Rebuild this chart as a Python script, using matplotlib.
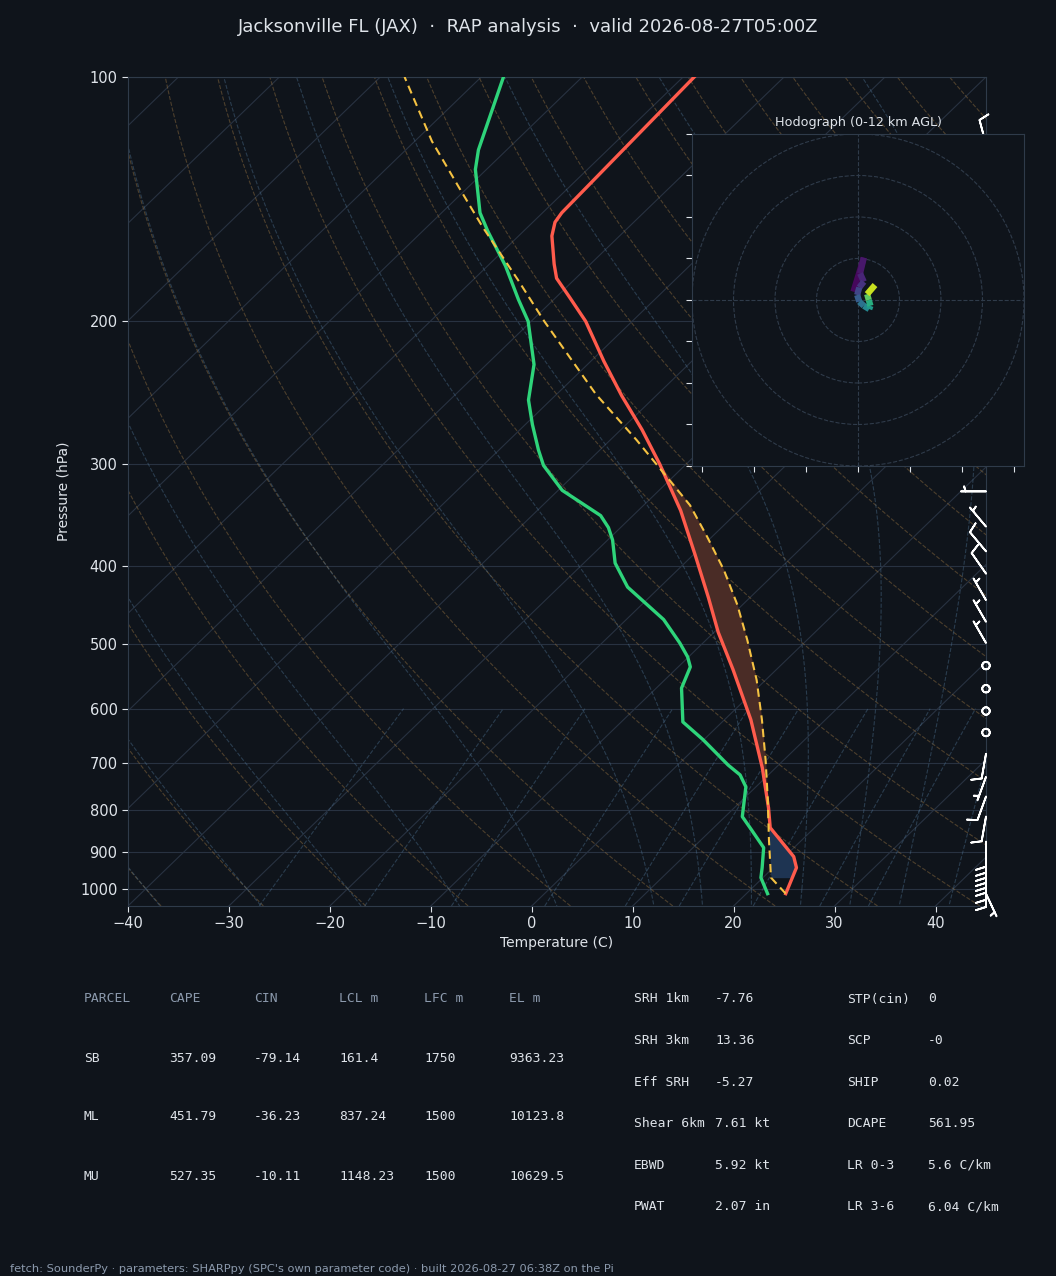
import numpy as np
import matplotlib
matplotlib.use('Agg')
import matplotlib.pyplot as plt
from matplotlib.collections import LineCollection
from matplotlib.patches import Circle
from matplotlib.transforms import blended_transform_factory

BG = '#0f141b'
GRID = '#283241'
SPINE = '#2f3b4a'
TXT = '#dfe4ea'
MUTED = '#8c9aad'

TITLE = 'Jacksonville FL (JAX)  \u00b7  RAP analysis  \u00b7  valid 2026-08-27T05:00Z'
FOOTER = ("fetch: SounderPy \u00b7 parameters: SHARPpy (SPC's own parameter code) "
          "\u00b7 built 2026-08-27 06:38Z on the Pi")

# environmental temperature (hPa, degC)
TEMP_P = [100, 147, 151, 157, 170, 177, 187, 200, 224, 247, 272, 300, 342, 388,
          438, 483, 537, 619, 710, 795, 841, 913, 942, 1014]
TEMP_C = [-68.9, -68.1, -67.8, -66.7, -63.6, -61.9, -58.6, -54.6, -48.7, -43.4,
          -37.9, -32.6, -25.8, -19.8, -14.1, -9.6, -4.3, 2.6, 8.7, 13.4, 15.6,
          20.9, 22.3, 23.9]

# dewpoint
DEWP_P = [100, 123, 130, 147, 155, 171, 188, 200, 226, 250, 268, 288, 301, 323,
          347, 359, 372, 397, 425, 466, 498, 518, 533, 566, 623, 655, 704, 724,
          749, 815, 841, 890, 942, 969, 1014]
DEWP_C = [-87.8, -82.8, -81.1, -76.2, -73.5, -68.2, -63.5, -60.3, -55.3, -52.2,
          -49.3, -46.1, -44.0, -39.6, -33.2, -31.2, -29.5, -26.9, -23.2, -16.3,
          -12.3, -10.1, -8.8, -7.5, -3.9, -0.1, 5.0, 7.2, 9.0, 11.7, 13.6, 17.0,
          18.9, 19.8, 22.1]

# surface based parcel
PARCEL_P = [1014, 969, 870, 777, 694, 619, 553, 494, 447, 405, 369, 337, 280,
            246, 200, 178, 153, 137, 120, 100]
PARCEL_C = [23.9, 20.8, 16.7, 12.5, 8.2, 3.7, -0.9, -5.9, -10.5, -15.4, -20.4,
            -25.4, -37.4, -46.1, -58.7, -65.5, -74.5, -80.8, -88.3, -97.6]
LFC_P, EL_P = 800, 285

# wind barbs (hPa, kt, direction from)
BARB_P = [121, 324, 358, 384, 409, 441, 469, 498, 531, 567, 604, 642, 682, 728,
          770, 815, 875, 890, 903, 916, 929, 942, 961, 981, 1014]
BARB_SPD = [10, 5, 5, 10, 10, 5, 5, 5, 0, 0, 0, 0, 10, 5, 10, 10, 10, 10, 10,
            10, 10, 10, 10, 10, 5]
BARB_DIR = [345, 270, 320, 320, 325, 330, 330, 330, 0, 0, 0, 0, 190, 200, 200,
            190, 180, 180, 180, 180, 180, 180, 180, 180, 155]

# hodograph (kt) coloured by height AGL (km)
HODO_U = [-1.1, 1.4, 0.5, 1.4, 0.3, -0.2, 0.3, 1.4, 2.7, 3.0, 2.6, 2.2, 4.1]
HODO_V = [2.0, 10.2, 6.4, 4.4, 3.0, 1.2, -0.4, -1.4, -2.2, -1.4, 0.0, 1.4, 3.6]
HODO_Z = [0, 0.5, 1, 1.5, 2, 3, 4, 5, 6, 7, 8, 10, 12]

# table below the diagram
PARCEL_HEAD = ['PARCEL', 'CAPE', 'CIN', 'LCL m', 'LFC m', 'EL m']
PARCEL_ROWS = [['SB', '357.09', '-79.14', '161.4', '1750', '9363.23'],
               ['ML', '451.79', '-36.23', '837.24', '1500', '10123.8'],
               ['MU', '527.35', '-10.11', '1148.23', '1500', '10629.5']]
INDEX_A = [('SRH 1km', '-7.76'), ('SRH 3km', '13.36'), ('Eff SRH', '-5.27'),
           ('Shear 6km', '7.61 kt'), ('EBWD', '5.92 kt'), ('PWAT', '2.07 in')]
INDEX_B = [('STP(cin)', '0'), ('SCP', '-0'), ('SHIP', '0.02'),
           ('DCAPE', '561.95'), ('LR 0-3', '5.6 C/km'), ('LR 3-6', '6.04 C/km')]

# reference lines
DRY_T0 = np.arange(-40, 201, 10)
MOIST_T0 = np.concatenate((np.arange(-40, 10, 10), np.arange(10, 46, 5)))
MIX_W = [0.0004, 0.001, 0.002, 0.004, 0.007, 0.01, 0.016, 0.024, 0.032]

P_BOT, P_TOP = 1050, 100
T_MIN, T_MAX = -40, 45
SKEW = T_MAX - T_MIN  # 45 deg in axes units


def skew_x(t, p):
    frac = np.log(P_BOT / np.asarray(p, float)) / np.log(P_BOT / P_TOP)
    return np.asarray(t, float) + SKEW * frac


def interp_logp(p_new, p, t):
    p = np.asarray(p, float)
    order = np.argsort(p)
    return np.interp(np.log(p_new), np.log(p[order]), np.asarray(t, float)[order])


def sat_w(t_c, p):
    es = 6.112 * np.exp(17.67 * t_c / (t_c + 243.5))
    return 0.622 * es / (p - es)


def moist_profile(t0, pres):
    Rd, Cp, Lv, eps = 287.04, 1005.7, 2.501e6, 0.622

    def dtdp(p, tk):
        rs = sat_w(tk - 273.15, p)
        return (Rd * tk + Lv * rs) / p / (Cp + Lv * Lv * rs * eps / (Rd * tk * tk))

    out = [t0 + 273.15]
    for p0, p1 in zip(pres[:-1], pres[1:]):
        h = p1 - p0
        tk = out[-1]
        k1 = dtdp(p0, tk)
        k2 = dtdp(p0 + h / 2, tk + h / 2 * k1)
        k3 = dtdp(p0 + h / 2, tk + h / 2 * k2)
        k4 = dtdp(p1, tk + h * k3)
        out.append(tk + h / 6 * (k1 + 2 * k2 + 2 * k3 + k4))
    return np.array(out) - 273.15


fig = plt.figure(figsize=(10.56, 12.76), dpi=100, facecolor=BG)
ax = fig.add_axes([0.1212, 0.2900, 0.8125, 0.6497])
ax.set_facecolor(BG)
ax.set_yscale('log')
ax.set_ylim(P_BOT, P_TOP)
ax.set_xlim(T_MIN, T_MAX)

# grid: isobars and skewed isotherms
for p in range(100, 1001, 100):
    ax.axhline(p, color=GRID, lw=0.8, zorder=1)
pp = np.array([P_BOT, P_TOP])
for t in range(-130, 50, 10):
    ax.plot(skew_x([t, t], pp), pp, color=GRID, lw=0.8, zorder=1)

# dry adiabats
p_line = np.geomspace(P_BOT, P_TOP, 80)
for t0 in DRY_T0:
    t = (t0 + 273.15) * (p_line / 1000.0) ** 0.2857 - 273.15
    ax.plot(skew_x(t, p_line), p_line, color='#8a6a3e', lw=0.8, ls='--',
            alpha=0.5, zorder=1)

# moist adiabats
p_up = np.linspace(1000, P_TOP, 120)
p_dn = np.linspace(1000, P_BOT, 10)
for t0 in MOIST_T0:
    t_up = moist_profile(t0, p_up)
    t_dn = moist_profile(t0, p_dn)
    ax.plot(skew_x(t_up, p_up), p_up, color='#4a6d8c', lw=0.8, ls='--',
            alpha=0.45, zorder=1)
    ax.plot(skew_x(t_dn, p_dn), p_dn, color='#4a6d8c', lw=0.8, ls='--',
            alpha=0.45, zorder=1)

# mixing ratio lines
p_mix = np.linspace(P_BOT, 600, 30)
for w in MIX_W:
    e = w * p_mix / (0.622 + w)
    ln = np.log(e / 6.112)
    td = 243.5 * ln / (17.67 - ln)
    ax.plot(skew_x(td, p_mix), p_mix, color='#4a6d8c', lw=0.8, ls='--',
            alpha=0.45, zorder=1)

# CAPE / CIN shading between parcel and environment
common = np.unique(np.concatenate((TEMP_P, PARCEL_P)).astype(float))[::-1]
env_c = interp_logp(common, TEMP_P, TEMP_C)
par_c = interp_logp(common, PARCEL_P, PARCEL_C)
x_env = skew_x(env_c, common)
x_par = skew_x(par_c, common)
cape = (common <= LFC_P + 50) & (common >= EL_P)
ax.fill_betweenx(common[cape], x_env[cape],
                 np.maximum(x_env[cape], x_par[cape]),
                 color='#4a2c26', lw=0, zorder=2)
cin = (common <= PARCEL_P[1]) & (common >= LFC_P)
ax.fill_betweenx(common[cin], x_env[cin], np.minimum(x_env[cin], x_par[cin]),
                 color='#1e3452', lw=0, zorder=2)

ax.plot(skew_x(TEMP_C, TEMP_P), TEMP_P, color='#ff5b4c', lw=2.4, zorder=4)
ax.plot(skew_x(DEWP_C, DEWP_P), DEWP_P, color='#2ed47a', lw=2.4, zorder=4)
ax.plot(skew_x(PARCEL_C, PARCEL_P), PARCEL_P, color='#f5c242', lw=1.5,
        ls=(0, (4, 2.5)), zorder=5)

# wind barbs along the right edge
spd = np.array(BARB_SPD, float)
rad = np.deg2rad(BARB_DIR)
u = -spd * np.sin(rad)
v = -spd * np.cos(rad)
trans = blended_transform_factory(ax.transAxes, ax.transData)
ax.barbs(np.ones(len(BARB_P)), BARB_P, u, v, transform=trans, clip_on=False,
         color='white', length=6, linewidth=1.3, zorder=6)

# axes styling
ax.set_yticks(range(100, 1001, 100))
ax.set_yticklabels([str(p) for p in range(100, 1001, 100)])
ax.yaxis.set_minor_locator(matplotlib.ticker.NullLocator())
ax.set_xticks(range(-40, 41, 10))
ax.tick_params(colors=TXT, labelsize=10.5, length=4, color=TXT)
for s in ax.spines.values():
    s.set_color(SPINE)
fig.text(0.0597, 0.6152, 'Pressure (hPa)', rotation=90, ha='center',
         va='center', color=TXT, fontsize=10)
fig.text(0.5275, 0.2610, 'Temperature (C)', ha='center', va='center',
         color=TXT, fontsize=10)
fig.text(0.5, 0.9788, TITLE, ha='center', va='center', color=TXT, fontsize=13)

# hodograph inset
hax = fig.add_axes([0.6553, 0.6348, 0.3144, 0.2602])
hax.set_facecolor(BG)
hax.set_xlim(-40, 40)
hax.set_ylim(-40, 40)
for r in (10, 20, 30, 40):
    hax.add_patch(Circle((0, 0), r, fill=False, ec=SPINE, lw=0.8, ls='--'))
hax.axhline(0, color=SPINE, lw=0.8, ls='--')
hax.axvline(0, color=SPINE, lw=0.8, ls='--')
pts = np.array([HODO_U, HODO_V]).T.reshape(-1, 1, 2)
segs = np.concatenate([pts[:-1], pts[1:]], axis=1)
lc = LineCollection(segs, cmap='viridis', linewidth=4.5)
lc.set_array(np.array(HODO_Z[:-1]) + np.diff(HODO_Z) / 2)
lc.set_clim(min(HODO_Z), max(HODO_Z))
hax.add_collection(lc)
hax.set_xticks([-37.5, -25, -12.5, 0, 12.5, 25, 37.5])
hax.set_yticks(range(-40, 41, 10))
hax.tick_params(colors=TXT, color=TXT, length=4, labelbottom=False,
                labelleft=False)
for s in hax.spines.values():
    s.set_color(SPINE)
hax.set_title('Hodograph (0-12 km AGL)', color=TXT, fontsize=9.2, pad=6)

# parameter table
mono = 'DejaVu Sans Mono'
for j, head in enumerate(PARCEL_HEAD):
    fig.text((84 + 85 * j) / 1056, 1 - 999 / 1276, head, family=mono,
             fontsize=9.4, color=MUTED, va='center')
for i, row in enumerate(PARCEL_ROWS):
    for j, cell in enumerate(row):
        fig.text((84 + 85 * j) / 1056, 1 - (1058 + 59 * i) / 1276, cell,
                 family=mono, fontsize=9.4, color=TXT, va='center')
for i, ((ka, va), (kb, vb)) in enumerate(zip(INDEX_A, INDEX_B)):
    y = 1 - (999 + 41.6 * i) / 1276
    for x0, k, val in ((634, ka, va), (847, kb, vb)):
        fig.text(x0 / 1056, y, k, family=mono, fontsize=9.4, color=TXT,
                 va='center')
        fig.text((x0 + 81) / 1056, y, val, family=mono, fontsize=9.4,
                 color=TXT, va='center')

fig.text(0.0095, 1 - 1269 / 1276, FOOTER, fontsize=8.2, color=MUTED,
         va='center')

fig.savefig('out.png', dpi=100, facecolor=BG)
